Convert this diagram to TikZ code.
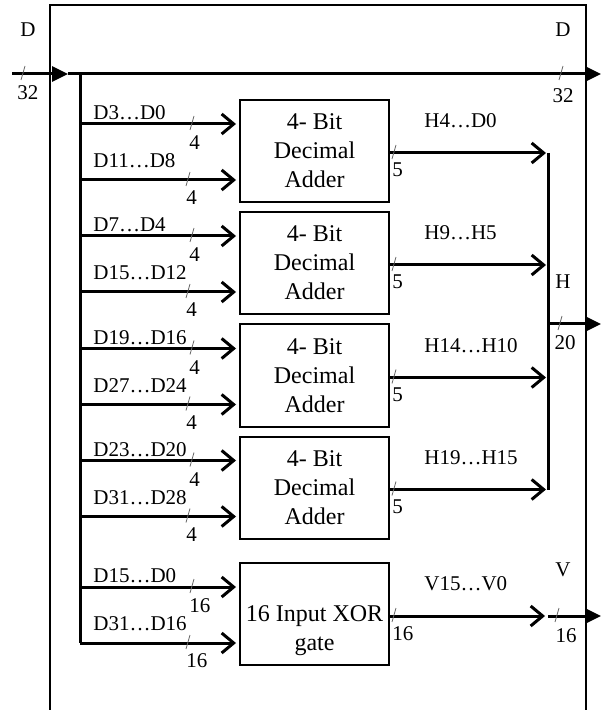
\documentclass[tikz,border=0pt]{standalone}
\usepackage{fontspec}
\setmainfont{Liberation Serif}
\usetikzlibrary{arrows.meta, calc}

\tikzset{
  bus/.style={line width=1.5pt},
  barb/.style={-{Straight Barb[length=6pt,width=10pt]}},
  tri/.style={-{Triangle[length=8pt,width=7.5pt]}},
  adder/.style={draw, line width=1pt, minimum width=74.5pt, minimum height=51pt,
    inner sep=0pt, align=center, font=\fontsize{12}{14.5}\selectfont},
  lbl/.style={inner sep=0pt, font=\fontsize{10.5}{12}\selectfont},
  marca/.style={line width=0.4pt, black!60},
}

\begin{document}
\begin{tikzpicture}[x=0.5pt, y=-0.5pt]
    \useasboundingbox (0,0) rectangle (601,710);

    % Marco
    \draw[line width=0.85pt] (50,712) |- (586,5) -- (586,712);

    % Bus D
    \coordinate (Din) at (12,74);
    \coordinate (Dent) at (68,74);
    \coordinate (Dout) at (601,74);
    \coordinate (T0) at (80,74);
    \coordinate (T1) at (80,643);
    \draw[bus, tri] (Din) -- (Dent);
    \draw[bus, tri] (Dent) -- (Dout);
    \draw[bus] (T0) -- (T1);
    \draw[marca] (21,80) -- (25,66);
    \draw[marca] (559,80) -- (563,66);
    \node[lbl] (dl) at (28,30) {D};
    \node[lbl] (dln) at (28,93) {32};
    \node[lbl] (dr) at (563,30) {D};
    \node[lbl] (drn) at (563,96) {32};

    % Bloques
    \foreach \n/\yy in {1/151, 2/263, 3/375.5, 4/487.5}
        \node[adder] (s\n) at (314.5,\yy) {4- Bit\\Decimal\\Adder};
    \node[adder] (xor) at (314.5,614) {\strut\\16 Input XOR\\gate};

    % Entradas
    \foreach \b/\la/\lb/\w in {s1/D3…D0/D11…D8/4, s2/D7…D4/D15…D12/4,
        s3/D19…D16/D27…D24/4, s4/D23…D20/D31…D28/4, xor/D15…D0/D31…D16/16} {
        \coordinate (a) at ($(T0 |- \b.west)+(0,-27)$);
        \coordinate (b) at ($(T0 |- \b.west)+(0,29)$);
        \draw[bus, barb] (a) -- ($(\b.west)+(-3,-27)$);
        \draw[bus, barb] (b) -- ($(\b.west)+(-3,29)$);
        \draw[marca] ($(a)+(110,6)$) -- ($(a)+(114,-8)$);
        \draw[marca] ($(b)+(106,6)$) -- ($(b)+(110,-8)$);
        \node[lbl, anchor=west] at ($(a)+(13,-11)$) {\la};
        \node[lbl, anchor=west] at ($(b)+(13,-19)$) {\lb};
        \node[lbl, anchor=west] at ($(a)+(109,19)$) {\w};
        \node[lbl, anchor=west] at ($(b)+(106,18)$) {\w};
    }

    % Bus H
    \coordinate (H0) at (548,153);
    \coordinate (H1) at (548,489.5);
    \coordinate (Hm) at (548,324);
    \coordinate (Hout) at (601,324);
    \draw[bus] (H0) -- (H1);
    \draw[bus, tri] (Hm) -- (Hout);
    \draw[marca] (558,330) -- (562,316);
    \node[lbl] (hl) at (563,282) {H};
    \node[lbl] (hn) at (565,343) {20};

    % Salidas
    \foreach \b/\l in {s1/H4…D0, s2/H9…H5, s3/H14…H10, s4/H19…H15} {
        \coordinate (c) at ($(\b.east)+(0,2)$);
        \draw[bus, barb] (c) -- ($(H0 |- c)+(-2,0)$);
        \draw[marca] ($(c)+(2,6)$) -- ($(c)+(6,-8)$);
        \node[lbl, anchor=west] at ($(c)+(34,-32)$) {\l};
        \node[lbl, anchor=west] at ($(c)+(2,17)$) {5};
    }

    % Salida V
    \coordinate (V0) at ($(xor.east)+(0,2)$);
    \coordinate (V1) at (545,616);
    \coordinate (V2) at (548,616);
    \coordinate (Vout) at (601,616);
    \draw[bus, barb] (V0) -- (V1);
    \draw[bus, tri] (V2) -- (Vout);
    \draw[marca] ($(V0)+(2,6)$) -- ($(V0)+(6,-8)$);
    \draw[marca] (555,622) -- (559,608);
    \node[lbl, anchor=west] at ($(V0)+(34,-32)$) {V15…V0};
    \node[lbl, anchor=west] at ($(V0)+(2,18)$) {16};
    \node[lbl] (vl) at (563,570) {V};
    \node[lbl] (vn) at (566,636) {16};
\end{tikzpicture}
\end{document}
